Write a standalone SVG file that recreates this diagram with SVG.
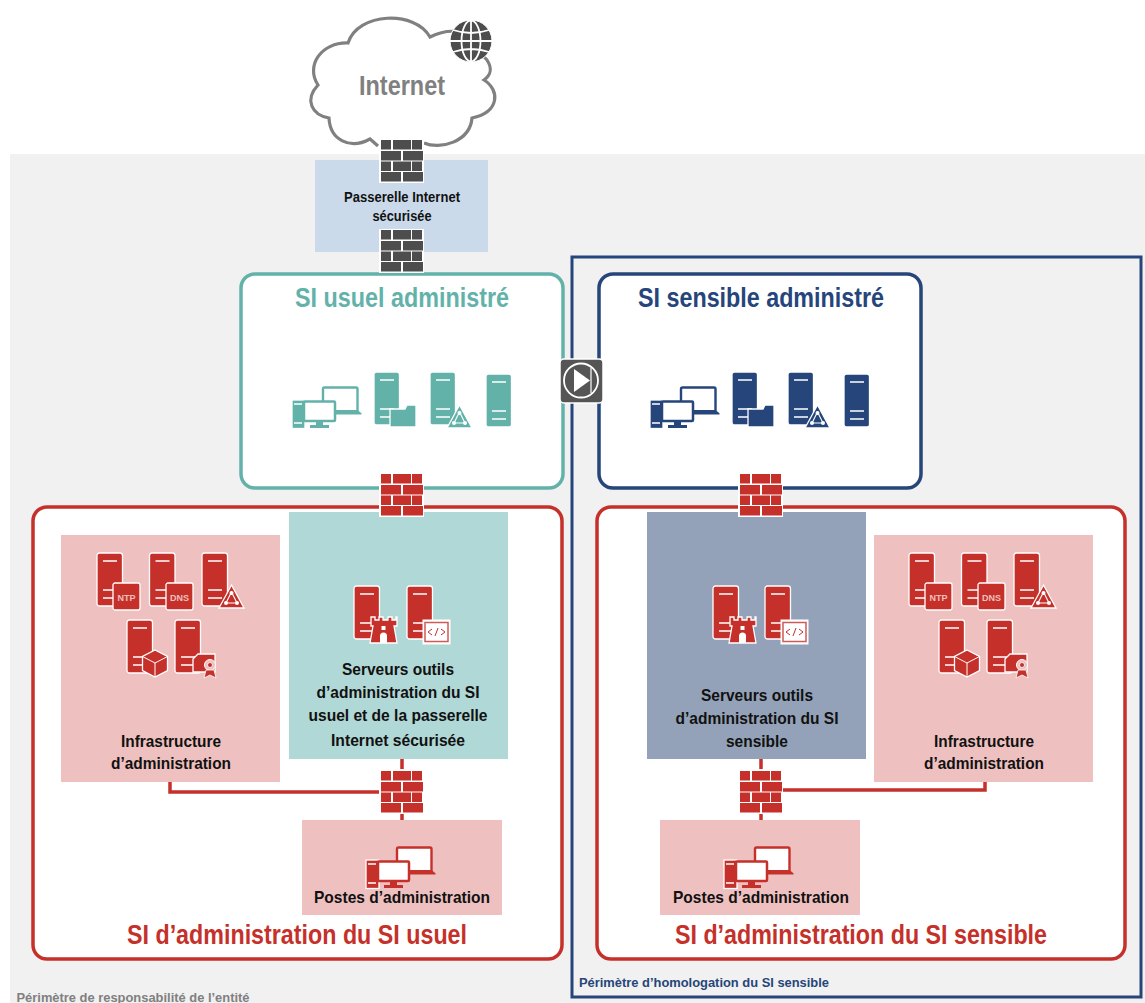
<svg xmlns="http://www.w3.org/2000/svg" width="1145" height="1003" viewBox="0 0 1145 1003">
<style>
text{font-family:"Liberation Sans",Arial,sans-serif;font-weight:700;text-anchor:middle}
.lbl{font-size:17px;fill:#111}
.lbs{font-size:14.500px;fill:#111}
.ttl{font-size:27px}
.bx{fill:#fff;stroke-width:3.5}
.conn{fill:none;stroke:#c5312a;stroke-width:3.5}
.tc{color:#63b2aa}.nv{color:#26457a}.rd{color:#c5312a}
.halo{stroke:#fff;stroke-width:1.3}
.wl{stroke:#fff;stroke-width:1.6;fill:none}
</style>
<defs>
<g id="fw"><rect x="-1" y="-1" width="45" height="44" fill="#fff"/>
<g fill="currentColor"><rect x="1" y="0" width="10" height="9.500"/><rect x="13" y="0" width="18" height="9.500"/><rect x="32" y="0" width="10" height="9.500"/><rect x="1" y="11" width="20" height="9.500"/><rect x="23" y="11" width="20" height="9.500"/><rect x="1" y="21.500" width="10" height="9.500"/><rect x="13" y="21.500" width="18" height="9.500"/><rect x="32" y="21.500" width="10" height="9.500"/><rect x="1" y="32" width="20" height="9.500"/><rect x="23" y="32" width="20" height="9.500"/></g></g>
<g id="srv"><rect width="25.500" height="53" rx="2.500" fill="currentColor" class="halo"/><path d="M6 8h14M6 37h14M6 45h14" class="wl"/></g>
<g id="folder"><path d="M0 5h15l2-4h8a1 1 0 0 1 1 1v21H0z" fill="currentColor" class="halo"/></g>
<g id="tri"><path d="M12.500 0l12.500 23H0z" fill="currentColor" class="halo"/><path d="M12.500 7l-5.500 11h11z" fill="none" stroke="#fff" stroke-width="1.100"/><g fill="#fff"><circle cx="12.500" cy="8" r="2"/><circle cx="7" cy="18" r="2"/><circle cx="18" cy="18" r="2"/></g></g>
<g id="wks">
<rect x="31" y="1.500" width="34.500" height="24" rx="1.500" fill="#fff" stroke="currentColor" stroke-width="2.400"/>
<path d="M43 24h22.500l4 3.200v1.300H43z" fill="currentColor"/>
<rect x="0" y="14" width="13" height="28.500" fill="currentColor" class="halo"/><path d="M2 18h8M2 37h8" class="wl"/>
<rect x="12" y="15.500" width="31" height="19.500" rx="1" fill="#fff" stroke="currentColor" stroke-width="2.500"/>
<path d="M24 36h7v3h6v3H18v-3h6z" fill="currentColor"/></g>
<g id="box"><rect width="27" height="27" rx="2" fill="currentColor" class="halo"/></g>
<g id="cube"><path d="M12 0l12.500 6.500v14L12 27-.5 20.500v-14z" fill="currentColor" class="halo"/><path d="M-.5 6.500L12 13l12.500-6.500M12 13v14" fill="none" stroke="#fff" stroke-width="1"/></g>
<g id="cert"><path d="M5 0h17v18H0V5z" fill="currentColor" class="halo"/><circle cx="17" cy="11" r="5.500" fill="#eec0bf" stroke="#fff"/><circle cx="17" cy="11" r="2.500" fill="#c5312a" stroke="#fff" stroke-width=".8"/><path d="M13 16l-2 8 6-3 6 3-2-8z" fill="#c5312a" stroke="#fff" stroke-width=".8"/></g>
<g id="castle"><path d="M1 0h4v3h4V0h4v3h5V0h4v3h4V0h1v9h-3l3 17H0l3-17H1z" fill="currentColor" class="halo"/><path d="M10 26v-7a3.500 3.500 0 0 1 7 0v7z" fill="#fff"/><rect x="11.500" y="9" width="4" height="4" fill="#fff"/></g>
<g id="code"><rect width="27" height="24" fill="#fff" stroke="#fff"/><rect x="2" y="2.500" width="23" height="19" fill="none" stroke="#d05a55" stroke-width="1.500"/><path d="M9 9l-4 3 4 3M18 9l4 3-4 3M15 8l-3 8" fill="none" stroke="#c5312a" stroke-width="1"/></g>
<g id="infra">
<use href="#srv" x="0" y="0"/><use href="#box" x="16" y="30"/><text x="29.500" y="48" font-size="9" fill="#eec0bf">NTP</text>
<use href="#srv" x="52.500" y="0"/><use href="#box" x="69" y="30"/><text x="82.500" y="48" font-size="9" fill="#eec0bf">DNS</text>
<use href="#srv" x="105" y="0"/><use href="#tri" x="122" y="32"/>
<use href="#srv" x="30" y="67"/><use href="#cube" x="46" y="97"/>
<use href="#srv" x="78" y="67"/><use href="#cert" x="96" y="101"/>
</g>
<g id="si"><use href="#wks"/><use href="#srv" x="82" y="-14"/><use href="#folder" x="98" y="18"/><use href="#srv" x="138" y="-14"/><use href="#tri" x="155" y="19"/><use href="#srv" x="194" y="-12"/></g>
</defs>

<rect id="bg-entite" x="10" y="154" width="1135" height="849" fill="#f1f1f1"/>

<g id="perimetre-sensible"><rect x="572" y="257" width="569" height="740" fill="none" stroke="#26457a" stroke-width="3"/>
<text x="704" y="987" font-size="13.500" fill="#26457a" textLength="250" lengthAdjust="spacingAndGlyphs">Périmètre d’homologation du SI sensible</text></g>
<g id="perimetre-entite"><text x="133" y="1002" font-size="12.500" fill="#808080" textLength="233" lengthAdjust="spacingAndGlyphs">Périmètre de responsabilité de l’entité</text></g>

<g id="internet">
<path d="M378 146L370 139C350 150 330 140 329 118C312 115 304 100 318 85C305 65 322 42 348 43C358 12 415 10 430 37C440 32 450 30 460 32L487 60C492 68 492 74 484 80C500 90 500 112 472 118C470 142 440 150 424 143" fill="#fff" stroke="#808080" stroke-width="3.200"/>
<text x="402" y="95" font-size="28" fill="#808080" textLength="86" lengthAdjust="spacingAndGlyphs">Internet</text>
<circle cx="471" cy="41" r="21" fill="#4d4d4d" stroke="#fff" stroke-width="1"/>
<g fill="none" stroke="#fff" stroke-width="1.800"><ellipse cx="471" cy="41" rx="9.500" ry="20.500"/><path d="M471 20v42M450 41h42M453 30q18 6 36 0M453 52q18-6 36 0"/></g>
</g>

<g id="passerelle"><rect x="315" y="160" width="173" height="92" fill="#cbdaea"/>
<text class="lbs" x="402" y="202" textLength="116" lengthAdjust="spacingAndGlyphs">Passerelle Internet</text>
<text class="lbs" x="402" y="221" textLength="59" lengthAdjust="spacingAndGlyphs">sécurisée</text></g>

<g id="si-usuel" class="tc"><rect class="bx" x="241" y="274" width="322" height="214" rx="14" stroke="#63b2aa"/>
<text class="ttl" x="402" y="307" fill="#63b2aa" textLength="214" lengthAdjust="spacingAndGlyphs">SI usuel administré</text>
<use href="#si" x="292" y="386"/></g>

<g id="si-sensible" class="nv"><rect class="bx" x="599" y="274" width="322" height="214" rx="14" stroke="#26457a"/>
<text class="ttl" x="761" y="307" fill="#26457a" textLength="246" lengthAdjust="spacingAndGlyphs">SI sensible administré</text>
<use href="#si" x="650" y="386"/></g>

<g id="si-admin-usuel"><rect class="bx" x="33" y="507" width="529" height="452" rx="14" stroke="#c5312a"/>
<text class="ttl" x="297" y="944" fill="#c5312a" textLength="340" lengthAdjust="spacingAndGlyphs">SI d’administration du SI usuel</text></g>
<g id="si-admin-sensible"><rect class="bx" x="597" y="507" width="528" height="452" rx="14" stroke="#c5312a"/>
<text class="ttl" x="861" y="944" fill="#c5312a" textLength="372" lengthAdjust="spacingAndGlyphs">SI d’administration du SI sensible</text></g>

<g id="connecteurs">
<path class="conn" d="M170 782V792H380M402 759V769M402 808V820"/>
<path class="conn" d="M985 782V790H783M761 759V769M761 808V820"/>
</g>

<g id="infra-usuel" class="rd"><rect x="61" y="535" width="219" height="247" fill="#eec0bf"/><use href="#infra" x="97" y="553"/>
<text class="lbl" x="171" y="747" textLength="100" lengthAdjust="spacingAndGlyphs">Infrastructure</text>
<text class="lbl" x="171" y="769" textLength="120" lengthAdjust="spacingAndGlyphs">d’administration</text></g>

<g id="outils-usuel" class="rd"><rect x="289" y="512" width="219" height="247" fill="#b0d8d6"/>
<use href="#srv" x="354" y="586"/><use href="#castle" x="370" y="617"/><use href="#srv" x="407" y="586"/><use href="#code" x="423" y="620"/>
<text class="lbl" x="398" y="675" textLength="112" lengthAdjust="spacingAndGlyphs">Serveurs outils</text>
<text class="lbl" x="398" y="698" textLength="163" lengthAdjust="spacingAndGlyphs">d’administration du SI</text>
<text class="lbl" x="398" y="721" textLength="179" lengthAdjust="spacingAndGlyphs">usuel et de la passerelle</text>
<text class="lbl" x="398" y="746" textLength="134" lengthAdjust="spacingAndGlyphs">Internet sécurisée</text></g>

<g id="outils-sensible" class="rd"><rect x="647" y="512" width="219" height="247" fill="#93a2b8"/>
<use href="#srv" x="713" y="586"/><use href="#castle" x="729" y="617"/><use href="#srv" x="765" y="586"/><use href="#code" x="781" y="620"/>
<text class="lbl" x="757" y="701" textLength="112" lengthAdjust="spacingAndGlyphs">Serveurs outils</text>
<text class="lbl" x="757" y="724" textLength="163" lengthAdjust="spacingAndGlyphs">d’administration du SI</text>
<text class="lbl" x="757" y="747" textLength="62" lengthAdjust="spacingAndGlyphs">sensible</text></g>

<g id="infra-sensible" class="rd"><rect x="874" y="535" width="219" height="247" fill="#eec0bf"/><use href="#infra" x="909" y="553"/>
<text class="lbl" x="984" y="747" textLength="100" lengthAdjust="spacingAndGlyphs">Infrastructure</text>
<text class="lbl" x="984" y="769" textLength="120" lengthAdjust="spacingAndGlyphs">d’administration</text></g>

<g id="postes-usuel" class="rd"><rect x="302" y="820" width="200" height="95" fill="#eec0bf"/><use href="#wks" x="366" y="846"/>
<text class="lbl" x="402" y="903" textLength="176" lengthAdjust="spacingAndGlyphs">Postes d’administration</text></g>
<g id="postes-sensible" class="rd"><rect x="660" y="820" width="200" height="95" fill="#eec0bf"/><use href="#wks" x="724" y="846"/>
<text class="lbl" x="761" y="903" textLength="176" lengthAdjust="spacingAndGlyphs">Postes d’administration</text></g>

<g id="pare-feu">
<use href="#fw" x="380" y="140" style="color:#4d4d4d"/>
<use href="#fw" x="380" y="230" style="color:#4d4d4d"/>
<use href="#fw" x="380" y="474" style="color:#c5312a"/>
<use href="#fw" x="739" y="474" style="color:#c5312a"/>
<use href="#fw" x="380" y="771" style="color:#c5312a"/>
<use href="#fw" x="739" y="771" style="color:#c5312a"/>
</g>

<g id="diode"><rect x="560" y="359" width="43" height="44" rx="4" fill="#555" stroke="#fff" stroke-width="1.500"/>
<circle cx="581" cy="380.500" r="17" fill="none" stroke="#fff" stroke-width="1.800"/>
<path d="M574 369l16 11.500-16 11.500z" fill="#fff"/><path d="M591 368v25" stroke="#fff" stroke-width="1.200"/></g>
</svg>
